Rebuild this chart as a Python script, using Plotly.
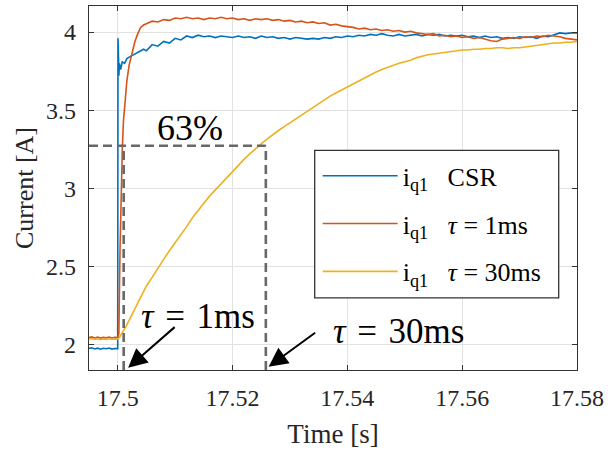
import plotly.graph_objects as go

# ---------------- data ----------------
# pre-step + step region samples
t_pre = [17.495, 17.4955, 17.496, 17.4965, 17.497, 17.4975, 17.498, 17.4985, 17.499, 17.4995, 17.5]
csr_pre = [1.975, 1.979, 1.972, 1.977, 1.970, 1.976, 1.973, 1.978, 1.971, 1.975, 1.974]
tau1_pre = [2.045, 2.049, 2.042, 2.047, 2.041, 2.046, 2.043, 2.048, 2.042, 2.046, 2.045]
tau30_pre = [2.035, 2.038, 2.032, 2.037, 2.031, 2.036, 2.033, 2.037, 2.032, 2.036, 2.035]

t_csr_step = [17.50005, 17.5001, 17.50015, 17.5002, 17.5003, 17.5005, 17.5008, 17.5012, 17.5016,
              17.502, 17.5025, 17.503, 17.5035, 17.504, 17.5045]
csr_step = [3.96, 3.50, 3.82, 3.72, 3.80, 3.76, 3.81, 3.80, 3.83,
            3.84, 3.85, 3.86, 3.87, 3.88, 3.89]

t_tau1_step = [17.5002, 17.5004, 17.5006, 17.5008, 17.501, 17.5013, 17.5016, 17.502, 17.5025,
               17.503, 17.5035, 17.504, 17.5045]
tau1_step = [2.07, 2.60, 3.00, 3.25, 3.43, 3.58, 3.69, 3.79, 3.87,
             3.94, 3.99, 4.03, 4.045]

t_tau30_step = [17.5003, 17.5015, 17.503, 17.504]
tau30_step = [2.045, 2.12, 2.23, 2.30]

# steady sampling 17.505 ... 17.580 every 1 ms
t_main = [round(17.505 + 0.001 * k, 3) for k in range(76)]
csr_main = [3.88, 3.92, 3.91, 3.94, 3.93, 3.96, 3.95, 3.975, 3.965, 3.98,
            3.97, 3.975, 3.965, 3.975, 3.97, 3.965, 3.975, 3.965, 3.97, 3.96,
            3.975, 3.965, 3.97, 3.96, 3.965, 3.955, 3.965, 3.96, 3.955, 3.96,
            3.955, 3.965, 3.96, 3.97, 3.965, 3.975, 3.97, 3.98, 3.975, 3.985,
            3.98, 3.99, 3.98, 3.975, 3.985, 3.975, 3.98, 3.985, 3.975, 3.985,
            3.98, 3.985, 3.975, 3.98, 3.975, 3.98, 3.97, 3.975, 3.965, 3.975,
            3.965, 3.97, 3.96, 3.965, 3.96, 3.97, 3.965, 3.97, 3.96, 3.975,
            3.97, 3.98, 3.995, 3.99, 3.995, 3.995]
tau1_main = [4.055, 4.07, 4.065, 4.08, 4.075, 4.09, 4.085, 4.095, 4.085, 4.09,
             4.08, 4.09, 4.085, 4.095, 4.085, 4.09, 4.08, 4.085, 4.075, 4.085,
             4.08, 4.085, 4.075, 4.08, 4.07, 4.075, 4.065, 4.07, 4.06, 4.065,
             4.055, 4.06, 4.045, 4.05, 4.04, 4.035, 4.03, 4.02, 4.025, 4.015,
             4.02, 4.01, 4.015, 4.005, 4.01, 4.0, 4.005, 3.995, 3.99, 3.985,
             3.99, 3.975, 3.98, 3.97, 3.975, 3.965, 3.97, 3.96, 3.965, 3.955,
             3.945, 3.94, 3.955, 3.96, 3.965, 3.96, 3.97, 3.965, 3.975, 3.97,
             3.98, 3.975, 3.97, 3.96, 3.955, 3.95]
tau30_main = [2.375, 2.43, 2.49, 2.545, 2.60, 2.65, 2.705, 2.755, 2.81, 2.86,
              2.905, 2.95, 2.99, 3.03, 3.07, 3.11, 3.15, 3.185, 3.22, 3.255,
              3.285, 3.315, 3.345, 3.37, 3.395, 3.42, 3.445, 3.47, 3.495, 3.52,
              3.545, 3.565, 3.59, 3.61, 3.63, 3.65, 3.67, 3.69, 3.71, 3.725,
              3.745, 3.76, 3.775, 3.79, 3.80, 3.81, 3.82, 3.835, 3.845, 3.855,
              3.86, 3.865, 3.87, 3.875, 3.88, 3.885, 3.885, 3.89, 3.89, 3.895,
              3.895, 3.90, 3.90, 3.895, 3.90, 3.90, 3.905, 3.91, 3.915, 3.92,
              3.925, 3.93, 3.93, 3.935, 3.935, 3.94]

SP = "\u2002 "
series_names = ["i<sub>q1</sub>" + SP + "CSR",
                "i<sub>q1</sub>" + SP + "<i>τ</i> = 1ms",
                "i<sub>q1</sub>" + SP + "<i>τ</i> = 30ms"]
series_colors = ["#0072BD", "#D95319", "#EDB120"]

x_ticks = [17.5, 17.52, 17.54, 17.56, 17.58]
x_ticklabels = ["17.5", "17.52", "17.54", "17.56", "17.58"]
y_ticks = [2, 2.5, 3, 3.5, 4]
y_ticklabels = ["2", "2.5", "3", "3.5", "4"]
x_range = [17.495, 17.58]
y_range = [1.837, 4.167]

# time constant markers
TAU1_T = 17.50104
TAU30_T = 17.5258
LEVEL63 = 3.272

# ---------------- figure ----------------
FONT = "Liberation Serif, Times New Roman, serif"
TS = "\u2004"
fig = go.Figure()

xs = [t_pre + t_csr_step + t_main, t_pre + t_tau1_step + t_main, t_pre + t_tau30_step + t_main]
ys = [csr_pre + csr_step + csr_main, tau1_pre + tau1_step + tau1_main, tau30_pre + tau30_step + tau30_main]
for i in range(3):
    fig.add_trace(go.Scatter(x=xs[i], y=ys[i], mode="lines", name=series_names[i],
                             legendgroup=str(i),
                             line=dict(color=series_colors[i], width=1.6)))

dash_style = dict(color="#686868", width=2.6, dash="9px,5px")
fig.add_shape(type="line", xref="x", yref="y", x0=x_range[0], x1=TAU30_T, y0=LEVEL63, y1=LEVEL63, line=dash_style)
fig.add_shape(type="line", xref="x", yref="y", x0=TAU1_T, x1=TAU1_T, y0=y_range[0], y1=LEVEL63, line=dash_style)
fig.add_shape(type="line", xref="x", yref="y", x0=TAU30_T, x1=TAU30_T, y0=y_range[0], y1=LEVEL63, line=dash_style)

# legend box
fig.add_shape(type="rect", xref="paper", yref="paper", x0=0.4625, x1=0.9625, y0=0.1982, y1=0.6034,
              line=dict(color="#333333", width=1.3), fillcolor="white", layer="above")

fig.add_annotation(x=17.51266, y=3.386, xref="x", yref="y", text="63%", showarrow=False,
                   font=dict(family=FONT, size=36, color="black"))
fig.add_annotation(x=17.51405, y=2.18, xref="x", yref="y", text="<i>τ</i>" + TS + "=" + TS + "1ms",
                   showarrow=False, font=dict(family=FONT, size=35, color="black"))
fig.add_annotation(x=17.54885, y=2.083, xref="x", yref="y", text="<i>τ</i>" + TS + "=" + TS + "30ms",
                   showarrow=False, font=dict(family=FONT, size=35, color="black"))
fig.add_annotation(x=17.50182, y=1.851, xref="x", yref="y", ax=48, ay=-42, text="", showarrow=True,
                   arrowhead=2, arrowsize=1.9, arrowwidth=2, arrowcolor="black")
fig.add_annotation(x=17.52629, y=1.858, xref="x", yref="y", ax=48, ay=-35, text="", showarrow=True,
                   arrowhead=2, arrowsize=1.9, arrowwidth=2, arrowcolor="black")

axis_common = dict(showline=True, linecolor="#333333", linewidth=1.2, mirror="allticks",
                   ticks="inside", ticklen=5, tickcolor="#333333", tickwidth=1,
                   showgrid=True, gridcolor="#e2e2e2", gridwidth=1, zeroline=False,
                   tickfont=dict(family=FONT, size=24, color="#262626"))
fig.update_xaxes(range=x_range, tickvals=x_ticks, ticktext=x_ticklabels, ticklabelstandoff=6,
                 title=dict(text="Time [s]", font=dict(family=FONT, size=27, color="#262626"), standoff=14),
                 **axis_common)
fig.update_yaxes(range=y_range, tickvals=y_ticks, ticktext=y_ticklabels, ticklabelstandoff=7,
                 title=dict(text="Current [A]", font=dict(family=FONT, size=26, color="#262626"), standoff=4),
                 **axis_common)

fig.update_layout(
    width=608, height=450,
    margin=dict(l=89, r=31, t=6, b=80, autoexpand=False),
    plot_bgcolor="white", paper_bgcolor="white",
    showlegend=True,
    legend=dict(x=0.4686, y=0.598, xanchor="left", yanchor="top",
                bgcolor="rgba(0,0,0,0)", borderwidth=0, itemwidth=75,
                tracegroupgap=11,
                font=dict(family=FONT, size=26, color="black")),
)

fig.write_html("out.html", config={"displayModeBar": False})
with open("out.html", "r", encoding="utf-8") as f:
    html = f.read()
html = html.replace("<body>", '<body style="margin:0;padding:0;">', 1)
with open("out.html", "w", encoding="utf-8") as f:
    f.write(html)
